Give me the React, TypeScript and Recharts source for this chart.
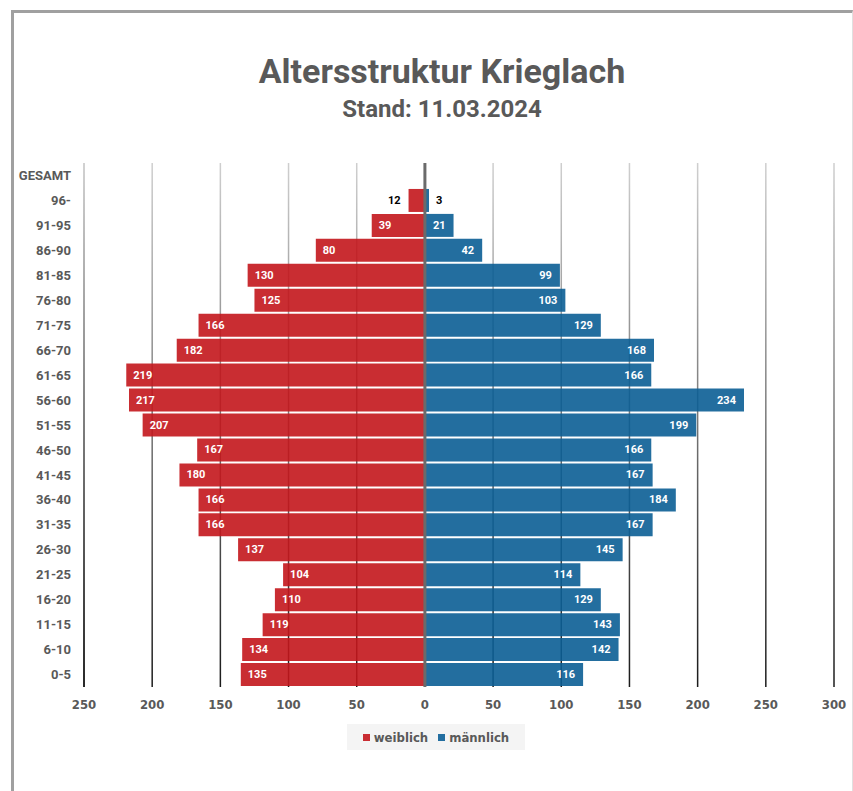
import React from 'react';
import { BarChart, Bar, XAxis, YAxis, CartesianGrid, ReferenceLine, Legend, LabelList } from 'recharts';

const ageGroups = ['GESAMT', '96-', '91-95', '86-90', '81-85', '76-80', '71-75', '66-70', '61-65', '56-60', '51-55', '46-50', '41-45', '36-40', '31-35', '26-30', '21-25', '16-20', '11-15', '6-10', '0-5'];
const weiblich = [null, 12, 39, 80, 130, 125, 166, 182, 219, 217, 207, 167, 180, 166, 166, 137, 104, 110, 119, 134, 135];
const maennlich = [null, 3, 21, 42, 99, 103, 129, 168, 166, 234, 199, 166, 167, 184, 167, 145, 114, 129, 143, 142, 116];
const xTicks = [-250, -200, -150, -100, -50, 0, 50, 100, 150, 200, 250, 300];

const RED = '#C3161C';
const BLUE = '#0B5E95';
const GREY = '#595959';

const data = ageGroups.map((age, i) => ({
  age,
  weiblich: weiblich[i] == null ? null : -(weiblich[i] as number),
  maennlich: maennlich[i],
}));

const renderLabel = (side: 'left' | 'right') => (props: any) => {
  const { x, y, width, height, value } = props;
  if (value == null) return null;
  const v = Math.abs(Number(value));
  const left = Math.min(x, x + width);
  const right = Math.max(x, x + width);
  const cy = y + height / 2;
  const small = v < 15;
  let tx: number;
  let anchor: 'start' | 'end';
  if (side === 'left') {
    tx = small ? left - 8 : left + 7;
    anchor = small ? 'end' : 'start';
  } else {
    tx = small ? right + 7 : right - 8;
    anchor = small ? 'start' : 'end';
  }
  return (
    <text x={tx} y={cy} textAnchor={anchor} dominantBaseline="central"
      fill={small ? '#000' : '#fff'} fontSize={11} fontWeight={700} fontFamily="Roboto">
      {v}
    </text>
  );
};

const renderLegend = () => (
  <div style={{ background: '#f4f4f4', height: 26, display: 'flex', alignItems: 'center', justifyContent: 'center', gap: 10, fontFamily: '"Liberation Sans Narrow", "DejaVu Sans Condensed", sans-serif', fontWeight: 700, fontSize: 13, color: GREY }}>
    <span style={{ display: 'flex', alignItems: 'center', gap: 4 }}>
      <span style={{ width: 7, height: 7, background: '#C92D33', display: 'inline-block' }} />weiblich
    </span>
    <span style={{ display: 'flex', alignItems: 'center', gap: 4 }}>
      <span style={{ width: 7, height: 7, background: '#236EA0', display: 'inline-block' }} />männlich
    </span>
  </div>
);

export default function App() {
  return (
    <div style={{ position: 'absolute', left: 0, top: 0, width: 853, height: 791, background: '#fff', overflow: 'hidden' }}>
      <div style={{ position: 'absolute', left: 11, top: 10, width: 838, height: 800, borderLeft: '3px solid #a0a0a0', borderTop: '3px solid #a0a0a0', borderRight: '1px solid #e0e0e0' }} />
      <div style={{ position: 'absolute', left: 0, width: 884, top: 51, textAlign: 'center', fontFamily: 'Roboto', fontWeight: 700, fontSize: 34, color: GREY }}>
        Altersstruktur Krieglach
      </div>
      <div style={{ position: 'absolute', left: 0, width: 884, top: 95, textAlign: 'center', fontFamily: 'Roboto', fontWeight: 700, fontSize: 24, color: GREY }}>
        Stand: 11.03.2024
      </div>
      <div style={{ position: 'absolute', left: 0, top: 0 }}>
        <BarChart width={853} height={791} data={data} layout="vertical" stackOffset="sign"
          barCategoryGap={1} margin={{ top: 163, right: 19, bottom: 74, left: 12 }}>
          <defs>
            <linearGradient id="gridGrad" gradientUnits="userSpaceOnUse" x1="0" y1="163" x2="0" y2="687">
              <stop offset="0%" stopColor="#cfcfcf" />
              <stop offset="100%" stopColor="#1a1a1a" />
            </linearGradient>
          </defs>
          <CartesianGrid horizontal={false} stroke="url(#gridGrad)" strokeWidth={1.5} />
          <ReferenceLine x={-250} stroke="url(#gridGrad)" strokeWidth={1.5} />
          <XAxis type="number" domain={[-250, 300]} ticks={xTicks} axisLine={false} tickLine={false}
            tickMargin={7} tickFormatter={(v: number) => String(Math.abs(v))}
            tick={{ fill: GREY, fontSize: 13, fontWeight: 700, fontFamily: '"Liberation Sans Narrow", "DejaVu Sans Condensed", sans-serif' }} />
          <YAxis type="category" dataKey="age" width={72} axisLine={false} tickLine={false} tickMargin={7}
            interval={0} tick={{ fill: GREY, fontSize: 13, fontWeight: 700, fontFamily: 'Roboto' }} />
          <Bar dataKey="weiblich" name="weiblich" stackId="a" fill={RED} fillOpacity={0.9} isAnimationActive={false}>
            <LabelList dataKey="weiblich" content={renderLabel('left')} />
          </Bar>
          <Bar dataKey="maennlich" name="männlich" stackId="a" fill={BLUE} fillOpacity={0.9} isAnimationActive={false}>
            <LabelList dataKey="maennlich" content={renderLabel('right')} />
          </Bar>
          <ReferenceLine x={0} stroke="#6b6b6b" strokeWidth={3} />
          <Legend layout="horizontal" verticalAlign="middle" align="center" content={renderLegend}
            wrapperStyle={{ top: 724, left: 347, width: 178, height: 26 }} />
        </BarChart>
      </div>
    </div>
  );
}
